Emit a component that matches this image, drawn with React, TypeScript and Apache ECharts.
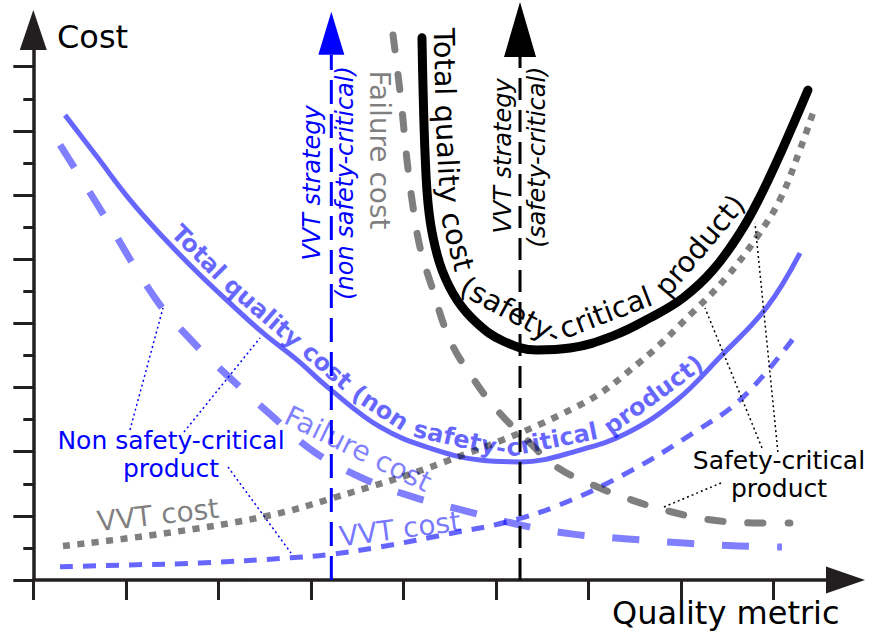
import React, { useEffect, useRef } from 'react';
import * as echarts from 'echarts';

// ---- axes (units: one tick step) ----
const xTicks = [0, 1, 2, 3, 4, 5, 6, 7, 8];
const yTicksMajor = [0, 2, 4, 6, 8, 10, 12, 14, 16];
const yTicksMinor = [1, 3, 5, 7, 9, 11, 13, 15];
const xMax = 8.57;
const yMax = 16.52;

// ---- curves [quality metric, cost] ----
const totalCostNonSafety = [
  [0.343, 14.49], [0.689, 13.19], [1.045, 11.85], [1.402, 10.69], [1.77, 9.6], [2.126, 8.63],
  [2.483, 7.7], [2.851, 6.86], [3.208, 5.95], [3.749, 4.77], [4.288, 4.11], [4.829, 3.74],
  [5.262, 3.68], [5.91, 4.05], [6.419, 4.58], [6.959, 5.61], [7.424, 6.95], [7.932, 8.51], [8.289, 10.19],
];
const failureCostNonSafety = [
  [0.289, 13.56], [0.689, 11.72], [1.316, 8.79], [1.705, 7.48], [2.126, 6.3], [2.559, 5.17],
  [3.024, 4.02], [3.554, 3.18], [4.105, 2.59], [4.678, 2.15], [5.272, 1.71], [5.834, 1.43],
  [6.429, 1.28], [7.034, 1.15], [7.629, 1.06], [8.094, 1.03],
];
const vvtCostNonSafety = [
  [0.289, 0.41], [1.045, 0.47], [1.8, 0.53], [2.778, 0.69], [3.24, 0.81], [3.749, 1.03],
  [4.473, 1.43], [5.121, 1.81], [5.69, 2.34], [6.419, 3.34], [7.133, 4.58], [7.674, 5.7], [8.27, 7.73],
];
const vvtCostSafety = [
  [0.321, 1.06], [1.446, 1.465], [2.526, 1.995], [3.24, 2.556], [4.473, 3.709], [5.91, 5.455],
  [6.559, 6.796], [7.132, 8.354], [7.497, 9.445], [7.822, 10.69], [8.071, 11.85], [8.287, 13.4], [8.45, 14.74],
];
const failureCostSafety = [
  [3.889, 16.99], [3.975, 14.96], [4.04, 13.09], [4.094, 11.85], [4.18, 10.38], [4.31, 9.13],
  [4.505, 7.48], [4.743, 6.33], [5.013, 5.3], [5.337, 4.36], [5.661, 3.52], [6.05, 2.96],
  [6.472, 2.49], [6.904, 2.12], [7.337, 1.87], [7.78, 1.78], [8.18, 1.78],
];
const totalCostSafety = [
  [4.202, 16.9], [4.213, 15.37], [4.235, 13.31], [4.267, 11.75], [4.321, 10.69], [4.419, 9.66],
  [4.581, 8.73], [4.797, 8.01], [5.078, 7.45], [5.446, 7.17], [5.803, 7.23], [6.267, 7.61],
  [6.667, 8.17], [7.024, 8.79], [7.348, 9.66], [7.64, 10.82], [7.856, 11.94], [8.094, 13.4], [8.375, 15.27],
];
const vvtStrategyNonSafety = [[3.222, 0], [3.222, 16.37]];
const vvtStrategySafety = [[5.262, 0], [5.262, 16.3]];
// [tipX, tipY, baseX, baseY]
const arrowHeads = [
  [0, 17.77, 0, yMax],
  [8.992, 0, xMax, 0],
  [3.222, 17.71, 3.222, 16.37],
  [5.262, 18.02, 5.262, 16.3],
];
const leadersNonSafety = [
  [[1.045, 4.676], [1.402, 8.479]],
  [[1.629, 4.613], [2.451, 7.544]],
  [[2.105, 3.522], [2.786, 0.842]],
];
const leadersSafety = [
  [[6.818, 2.276], [7.435, 3.024]],
  [[7.878, 4.115], [7.262, 8.479]],
  [[8.05, 3.99], [7.802, 11.13]],
];

// ---- styles ----
const AXIS = '#231f20';
const BLUE = '#0000ff';
const BLUE60 = 'rgba(0,0,255,0.6)';
const BLUE50 = 'rgba(0,0,255,0.5)';
const GRAY = 'rgba(0,0,0,0.5)';
const FONT = 'DejaVu Sans';
const arrowStyles = [
  { color: AXIS, half: 13.5 },
  { color: AXIS, half: 13.5 },
  { color: BLUE, half: 13 },
  { color: '#000000', half: 16 },
];

const lineSeries = (data: any, color: string, width: number, type: any, cap = 'butt', z = 2, smooth: any = 0.4) => ({
  type: 'line', data, smooth, showSymbol: false, symbol: 'none', clip: false, silent: true, z,
  lineStyle: { color, width, type, cap, join: 'round' },
});

const txt = (text: string, x: number, y: number, size: number, color: string, o: any = {}) => ({
  type: 'text', x, y, rotation: o.rotation || 0, z: 1, silent: true,
  style: {
    text, fill: color, fontSize: size, fontFamily: FONT,
    fontStyle: o.italic ? 'italic' : 'normal', fontWeight: o.bold ? 'bold' : 'normal',
    textAlign: o.align || 'center', textVerticalAlign: 'middle',
    align: o.align || 'center', verticalAlign: 'middle',
  },
});

function densify(pts: number[][]) {
  const out: number[][] = [];
  const n = pts.length;
  for (let i = 0; i < n - 1; i++) {
    const p0 = pts[Math.max(0, i - 1)], p1 = pts[i], p2 = pts[i + 1], p3 = pts[Math.min(n - 1, i + 2)];
    for (let k = 0; k < 20; k++) {
      const t = k / 20, t2 = t * t, t3 = t2 * t;
      out.push([0, 1].map((j) => 0.5 * (2 * p1[j] + (-p0[j] + p2[j]) * t + (2 * p0[j] - 5 * p1[j] + 4 * p2[j] - p3[j]) * t2 + (-p0[j] + 3 * p1[j] - 3 * p2[j] + p3[j]) * t3)));
    }
  }
  out.push(pts[n - 1]);
  return out;
}

function makePath(pts: number[][], offset: number) {
  const s = densify(pts);
  const q = s.map((p, i) => {
    const a = s[Math.max(0, i - 1)], b = s[Math.min(s.length - 1, i + 1)];
    const tx = b[0] - a[0], ty = b[1] - a[1];
    const l = Math.hypot(tx, ty) || 1;
    return [p[0] + (offset * ty) / l, p[1] - (offset * tx) / l];
  });
  const cum = [0];
  for (let i = 1; i < q.length; i++) cum.push(cum[i - 1] + Math.hypot(q[i][0] - q[i - 1][0], q[i][1] - q[i - 1][1]));
  const n = q.length;
  const L = cum[n - 1];
  const unit = (i: number, j: number) => {
    const dx = q[j][0] - q[i][0], dy = q[j][1] - q[i][1];
    const l = Math.hypot(dx, dy) || 1;
    return [dx / l, dy / l];
  };
  const d0 = unit(0, 3), d1 = unit(n - 4, n - 1);
  const pos = (sv: number) => {
    if (sv <= 0) return [q[0][0] + d0[0] * sv, q[0][1] + d0[1] * sv];
    if (sv >= L) return [q[n - 1][0] + d1[0] * (sv - L), q[n - 1][1] + d1[1] * (sv - L)];
    let lo = 0, hi = n - 1;
    while (hi - lo > 1) { const m = (lo + hi) >> 1; if (cum[m] <= sv) lo = m; else hi = m; }
    const t = (sv - cum[lo]) / ((cum[hi] - cum[lo]) || 1);
    return [q[lo][0] + (q[hi][0] - q[lo][0]) * t, q[lo][1] + (q[hi][1] - q[lo][1]) * t];
  };
  const locate = (P: number[]) => {
    let best = 0, bd = Infinity;
    q.forEach((p, i) => { const d = Math.hypot(p[0] - P[0], p[1] - P[1]); if (d < bd) { bd = d; best = i; } });
    if (best === 0) return (P[0] - q[0][0]) * d0[0] + (P[1] - q[0][1]) * d0[1];
    if (best === n - 1) return L + (P[0] - q[n - 1][0]) * d1[0] + (P[1] - q[n - 1][1]) * d1[1];
    return cum[best];
  };
  return { pos, locate };
}

const ctx = typeof document !== 'undefined' ? document.createElement('canvas').getContext('2d') : null;
function measure(t: string, weight: string) {
  if (!ctx) return t.length * 60;
  ctx.font = `${weight} 100px "${FONT}"`;
  return ctx.measureText(t).width;
}

function curvedText(path: any, tokens: string[], startPx: number[], endPx: number[], bold: boolean, color: string) {
  const weight = bold ? 'bold' : 'normal';
  const s0 = path.locate(startPx), s1 = path.locate(endPx);
  const widths = tokens.map((t) => measure(t, weight));
  const full = widths.reduce((a, b) => a + b, 0);
  const k = (s1 - s0) / full;
  const fontSize = 100 * k;
  const els: any[] = [];
  let acc = 0;
  tokens.forEach((tok, i) => {
    const w = widths[i];
    if (tok.trim()) {
      const a = s0 + acc * k, b = s0 + (acc + w) * k;
      const pa = path.pos(a), pb = path.pos(b), pm = path.pos((a + b) / 2);
      const cx = (pa[0] + pb[0]) / 4 + pm[0] / 2;
      const cy = (pa[1] + pb[1]) / 4 + pm[1] / 2;
      const ang = Math.atan2(pb[1] - pa[1], pb[0] - pa[0]);
      els.push(txt(tok, cx, cy, fontSize, color, { rotation: -ang, bold }));
    }
    acc += w;
  });
  return els;
}

export default function App() {
  const ref = useRef<HTMLDivElement>(null);
  useEffect(() => {
    document.body.style.margin = '0';
    const chart = echarts.init(ref.current!, null, { renderer: 'svg' });
    const axisLine = { show: true, onZero: false, lineStyle: { color: AXIS, width: 3.5 } };
    chart.setOption({
      animation: false,
      backgroundColor: '#ffffff',
      textStyle: { fontFamily: FONT },
      grid: { left: 33.3, right: 47, top: 50, bottom: 57, containLabel: false, outerBoundsMode: 'none' },
      xAxis: {
        type: 'value', min: 0, max: xMax, interval: 1,
        axisLine,
        axisTick: { show: true, inside: false, length: 20, customValues: xTicks, lineStyle: { color: AXIS, width: 3 } },
        axisLabel: { show: false }, splitLine: { show: false },
      },
      yAxis: [
        {
          type: 'value', min: 0, max: yMax, interval: 2, position: 'left',
          axisLine,
          axisTick: { show: true, inside: false, length: 20, customValues: yTicksMajor, lineStyle: { color: AXIS, width: 3 } },
          axisLabel: { show: false }, splitLine: { show: false },
        },
        {
          type: 'value', min: 0, max: yMax, interval: 1, position: 'left', offset: 0,
          axisLine: { show: false },
          axisTick: { show: true, inside: false, length: 10, customValues: yTicksMinor, lineStyle: { color: AXIS, width: 3 } },
          axisLabel: { show: false }, splitLine: { show: false },
        },
      ],
      series: [
        lineSeries(vvtCostNonSafety, BLUE60, 5, [13, 10], 'butt', 2),
        lineSeries(failureCostNonSafety, BLUE50, 7, [27, 28], 'butt', 2),
        lineSeries(totalCostNonSafety, BLUE60, 5, 'solid', 'butt', 2),
        lineSeries(vvtCostSafety, GRAY, 6.5, [7, 7.5], 'butt', 3),
        lineSeries(failureCostSafety, GRAY, 7, [15, 25], 'round', 3),
        lineSeries(totalCostSafety, '#000000', 9, 'solid', 'round', 4),
        lineSeries(vvtStrategyNonSafety, BLUE, 3, [24, 10], 'butt', 4, false),
        lineSeries(vvtStrategySafety, '#000000', 3, [22, 10], 'butt', 4, false),
        ...leadersNonSafety.map((d) => lineSeries(d, BLUE, 1.5, [2, 3], 'butt', 2, false)),
        ...leadersSafety.map((d) => lineSeries(d, '#000000', 1.5, [2, 3], 'butt', 2, false)),
        {
          type: 'custom', coordinateSystem: 'cartesian2d', clip: false, silent: true, z: 5,
          data: arrowHeads,
          renderItem: (params: any, api: any) => {
            const tip = api.coord([api.value(0), api.value(1)]);
            const base = api.coord([api.value(2), api.value(3)]);
            const st = arrowStyles[params.dataIndex];
            const dx = tip[0] - base[0], dy = tip[1] - base[1];
            const len = Math.hypot(dx, dy) || 1;
            const nx = (-dy / len) * st.half, ny = (dx / len) * st.half;
            return {
              type: 'polygon',
              shape: { points: [tip, [base[0] + nx, base[1] + ny], [base[0] - nx, base[1] - ny]] },
              style: { fill: st.color },
            };
          },
        },
      ],
    });

    const toPx = (p: number[]) => chart.convertToPixel({ gridIndex: 0 }, p) as number[];
    const blackPath = makePath(totalCostSafety.map(toPx), 22);
    const bluePath = makePath(totalCostNonSafety.map(toPx), 15);

    const graphic: any[] = [
      txt('Cost', 57, 37, 32, '#000000', { align: 'left' }),
      txt('Quality metric', 612, 613, 32, '#000000', { align: 'left' }),
      txt('VVT strategy', 312, 183, 24, BLUE, { italic: true, rotation: Math.PI / 2 }),
      txt('(non safety-critical)', 345, 183, 24, BLUE, { italic: true, rotation: Math.PI / 2 }),
      txt('VVT strategy', 503, 156, 24, '#000000', { italic: true, rotation: Math.PI / 2 }),
      txt('(safety-critical)', 537, 157, 24, '#000000', { italic: true, rotation: Math.PI / 2 }),
      txt('Failure cost', 379, 150, 28, GRAY, { rotation: -Math.PI / 2 }),
      txt('Failure cost', 358, 449, 28, BLUE50, { rotation: -0.454 }),
      txt('VVT cost', 158, 515, 28, GRAY, { rotation: 0.113 }),
      txt('VVT cost', 400, 529, 28, 'rgba(0,0,255,0.55)', { rotation: 0.133 }),
      txt('Non safety-critical', 171, 440, 25, BLUE),
      txt('product', 171, 468, 25, BLUE),
      txt('Safety-critical', 779, 460, 25, '#000000'),
      txt('product', 779, 488, 25, '#000000'),
      ...curvedText(blackPath, ['Total', ' ', 'quality', ' ', 'cost', ' ', '(safety-', 'critical', ' ', 'product)'], [447, 28], [741, 200], false, '#000000'),
      ...curvedText(bluePath, ['Total', ' ', 'quality', ' ', 'cost', ' ', '(non', ' ', 'safety-', 'critical', ' ', 'product)'], [178, 226], [700, 362], true, BLUE60),
    ];
    chart.setOption({ graphic });
    return () => chart.dispose();
  }, []);
  return <div ref={ref} style={{ position: 'absolute', left: 0, top: 0, width: 873, height: 637 }} />;
}
